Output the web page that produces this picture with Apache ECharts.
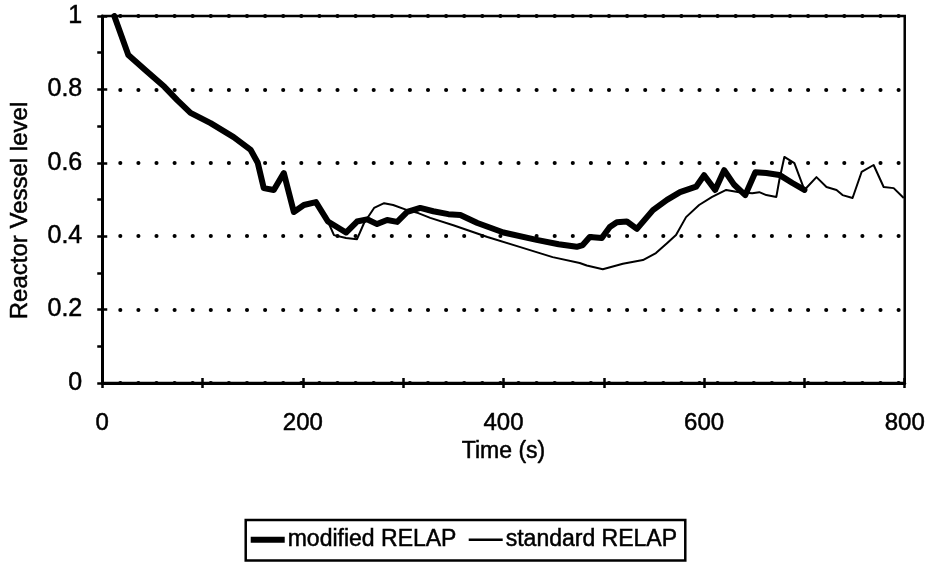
<!DOCTYPE html>
<html>
<head>
<meta charset="utf-8">
<script src="https://cdn.jsdelivr.net/npm/echarts@6/dist/echarts.min.js"></script>
<style>
  html, body { margin: 0; padding: 0; background: #fff; }
  #chart { width: 928px; height: 578px; }
</style>
</head>
<body>
<div id="chart"></div>
<script>
// Reactor vessel level vs. time, two RELAP runs
const seriesNames = ['modified RELAP', 'standard RELAP'];

// [time (s), level]
const modifiedRelap = [
  [12, 1.0], [26, 0.894], [44, 0.85], [62, 0.807], [75, 0.77], [88, 0.736],
  [108, 0.708], [131, 0.67], [148, 0.635], [155, 0.60], [161, 0.531], [171, 0.526],
  [181, 0.572], [191, 0.466], [201, 0.485], [213, 0.493], [225, 0.44], [243, 0.41],
  [254, 0.44], [264, 0.446], [274, 0.433], [284, 0.444], [294, 0.439], [304, 0.466],
  [317, 0.477], [330, 0.468], [345, 0.46], [357, 0.458], [374, 0.436], [400, 0.41],
  [433, 0.39], [455, 0.378], [473, 0.371], [479, 0.376], [486, 0.398], [498, 0.395],
  [506, 0.425], [513, 0.438], [523, 0.44], [533, 0.42], [549, 0.471], [563, 0.499],
  [576, 0.52], [592, 0.535], [600, 0.566], [611, 0.526], [620, 0.58], [630, 0.54],
  [641, 0.512], [651, 0.574], [662, 0.572], [675, 0.567], [688, 0.545], [700, 0.526]
];

const standardRelap = [
  [12, 1.0], [26, 0.894], [44, 0.85], [62, 0.807], [75, 0.77], [88, 0.736],
  [108, 0.708], [131, 0.67], [148, 0.635], [155, 0.60], [161, 0.531], [171, 0.526],
  [181, 0.572], [191, 0.466], [201, 0.485], [213, 0.493], [225, 0.44], [231, 0.403],
  [243, 0.395], [254, 0.392], [261, 0.436], [271, 0.477], [281, 0.49], [290, 0.485],
  [304, 0.471], [315, 0.463], [327, 0.45], [350, 0.43], [384, 0.398], [416, 0.371],
  [449, 0.343], [476, 0.327], [483, 0.32], [499, 0.31], [519, 0.325], [539, 0.335],
  [552, 0.354], [563, 0.381], [572, 0.403], [582, 0.452], [595, 0.485], [608, 0.507],
  [622, 0.526], [635, 0.52], [648, 0.517], [655, 0.52], [662, 0.512], [672, 0.507],
  [675, 0.553], [680, 0.616], [690, 0.599], [700, 0.526], [712, 0.561], [722, 0.534],
  [732, 0.526], [738, 0.512], [748, 0.504], [757, 0.575], [769, 0.594], [779, 0.534],
  [789, 0.531], [799, 0.504]
];

// axis ranges and label steps
const xRange = [0, 800];
const xTickStep = 100;
const xLabelStep = 200;
const yRange = [0, 1];
const yTickStep = 0.1;
const yLabelStep = 0.2;
const xAxisTitle = 'Time (s)';
const yAxisTitle = 'Reactor Vessel level';

const FONT = 'Liberation Sans, Arial, sans-serif';
const ink = '#000';
// slightly heavier type
const heavy = { textBorderColor: ink, textBorderWidth: 0.5 };

function xLabel(v) {
  return Math.round(v) % xLabelStep === 0 ? String(Math.round(v)) : '';
}
function yLabel(v) {
  const r = Math.round(v * 10);
  if (r % Math.round(yLabelStep * 10) !== 0) return '';
  return r === 10 ? '1' : r === 0 ? '0' : (r / 10).toFixed(1);
}

const chart = echarts.init(document.getElementById('chart'), null, { renderer: 'canvas' });

chart.setOption({
  backgroundColor: '#fff',
  animation: false,
  grid: {
    left: 101, right: 22, top: 16, bottom: 195,
    show: true, borderColor: ink, borderWidth: 2.5, backgroundColor: 'transparent'
  },
  legend: {
    data: [
      { name: seriesNames[0], icon: 'path://M0,0 H34 V6 H0 Z' },
      { name: seriesNames[1], icon: 'path://M0,0 H28 V2 H0 Z' }
    ],
    left: 'center',
    top: 520,
    orient: 'horizontal',
    borderColor: ink,
    borderWidth: 2.5,
    borderRadius: 0,
    padding: [8, 8, 9, 5],
    itemWidth: 34,
    itemHeight: 14,
    itemGap: 12,
    symbolKeepAspect: true,
    textStyle: Object.assign({ fontFamily: FONT, fontSize: 23, color: ink, padding: [0, 0, 0, -2] }, heavy)
  },
  xAxis: [
    {
      type: 'value', min: xRange[0], max: xRange[1], interval: xTickStep,
      name: xAxisTitle, nameLocation: 'middle', nameGap: 57,
      nameTextStyle: Object.assign({ fontFamily: FONT, fontSize: 23, color: ink }, heavy),
      axisLine: { show: true, lineStyle: { color: ink, width: 3 } },
      axisTick: { show: true, inside: false, length: 5, lineStyle: { color: ink, width: 2.5 } },
      axisLabel: Object.assign({ formatter: xLabel, margin: 28, fontFamily: FONT, fontSize: 24, color: ink }, heavy),
      splitLine: { show: false }
    },
    {
      type: 'value', min: xRange[0], max: xRange[1], interval: xTickStep, position: 'bottom',
      axisLine: { show: false },
      axisTick: { show: true, inside: true, length: 5, lineStyle: { color: ink, width: 2.5 } },
      axisLabel: { show: false },
      splitLine: { show: false }
    }
  ],
  yAxis: [
    {
      type: 'value', min: yRange[0], max: yRange[1], interval: yTickStep,
      name: yAxisTitle, nameLocation: 'middle', nameGap: 70, nameRotate: 90,
      nameTextStyle: Object.assign({ fontFamily: FONT, fontSize: 24, color: ink, padding: [0, 22, 0, 0] }, heavy),
      axisLine: { show: true, lineStyle: { color: ink, width: 3 } },
      axisTick: { show: true, inside: false, length: 5, lineStyle: { color: ink, width: 2.5 } },
      axisLabel: Object.assign({ formatter: yLabel, margin: 20, fontFamily: FONT, fontSize: 25, color: ink }, heavy),
      splitLine: { show: false }
    },
    {
      type: 'value', min: yRange[0], max: yRange[1], interval: yLabelStep, position: 'left',
      axisLine: { show: false },
      axisTick: { show: true, inside: true, length: 5, lineStyle: { color: ink, width: 2.5 } },
      axisLabel: { show: false },
      splitLine: {
        show: true,
        lineStyle: { color: ink, width: 4, type: [0.1, 18], cap: 'round', dashOffset: -18 }
      }
    }
  ],
  series: [
    {
      name: seriesNames[0], type: 'line', data: modifiedRelap,
      xAxisIndex: 0, yAxisIndex: 0,
      symbol: 'none', smooth: false, z: 4,
      lineStyle: { color: ink, width: 6, join: 'round', cap: 'round' },
      itemStyle: { color: ink }
    },
    {
      name: seriesNames[1], type: 'line', data: standardRelap,
      xAxisIndex: 0, yAxisIndex: 0,
      symbol: 'none', smooth: false, z: 3,
      lineStyle: { color: ink, width: 2, join: 'round' },
      itemStyle: { color: ink }
    }
  ]
});
</script>
</body>
</html>
